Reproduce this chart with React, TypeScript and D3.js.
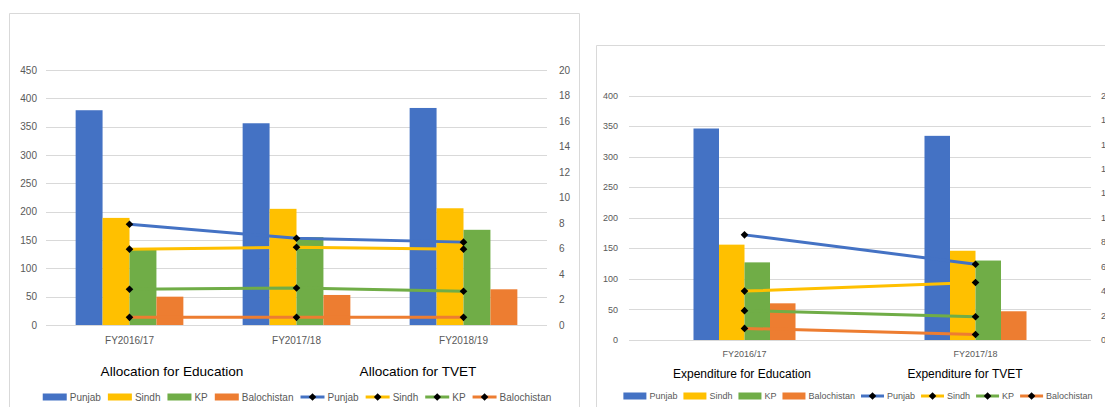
import React, { useEffect, useRef } from 'react';
import * as d3 from 'd3';

const provinces = ['Punjab', 'Sindh', 'KP', 'Balochistan'];
const provinceColors = ['#4472C4', '#FFC000', '#70AD47', '#ED7D31'];

// left panel - allocation (bars: education, left axis / lines: TVET, right axis)
const allocYears = ['FY2016/17', 'FY2017/18', 'FY2018/19'];
const allocEduPunjab = [379, 356, 383];
const allocEduSindh = [189, 205, 206];
const allocEduKP = [135, 155, 168];
const allocEduBalochistan = [50, 53, 63];
const allocTvetPunjab = [7.9, 6.8, 6.5];
const allocTvetSindh = [5.95, 6.1, 5.95];
const allocTvetKP = [2.8, 2.9, 2.65];
const allocTvetBalochistan = [0.6, 0.6, 0.6];

// right panel - expenditure
const expYears = ['FY2016/17', 'FY2017/18'];
const expEduPunjab = [346, 334];
const expEduSindh = [156, 146];
const expEduKP = [127, 130];
const expEduBalochistan = [60, 47];
const expTvetPunjab = [8.6, 6.2];
const expTvetSindh = [4.0, 4.7];
const expTvetKP = [2.4, 1.9];
const expTvetBalochistan = [0.95, 0.45];

const allocTitles = ['Allocation for Education', 'Allocation for TVET'];
const expTitles = ['Expenditure for Education', 'Expenditure for TVET'];

const FONT = '"Liberation Sans", Arial, sans-serif';
const GRID = '#D9D9D9';
const TEXT = '#595959';

const panels = [
  {
    years: allocYears,
    bars: [allocEduPunjab, allocEduSindh, allocEduKP, allocEduBalochistan],
    lines: [allocTvetPunjab, allocTvetSindh, allocTvetKP, allocTvetBalochistan],
    titles: allocTitles,
    titleX: [172, 418],
    frame: { x: 9.5, y: 13.5, w: 570 },
    plot: { left: 46, right: 547, top: 70, bottom: 325 },
    leftMax: 450,
    rightMax: 20,
    groupFrac: 0.645,
    tickFont: 10,
    leftLabelX: 37,
    rightLabelX: 559,
    catLabelY: 340,
    titleFont: 13.6,
    titleY: 371.5,
    legendFont: 10,
    legendY: 397,
    legendCenter: 297,
    keyW: 24,
    keyH: 7,
    itemGap: 7,
  },
  {
    years: expYears,
    bars: [expEduPunjab, expEduSindh, expEduKP, expEduBalochistan],
    lines: [expTvetPunjab, expTvetSindh, expTvetKP, expTvetBalochistan],
    titles: expTitles,
    titleX: [742, 965],
    frame: { x: 596.5, y: 45.5, w: 600 },
    plot: { left: 629, right: 1091, top: 95.5, bottom: 340 },
    leftMax: 400,
    rightMax: 20,
    groupFrac: 0.4416,
    tickFont: 9,
    leftLabelX: 618,
    rightLabelX: 1101,
    catLabelY: 354,
    titleFont: 12,
    titleY: 374,
    legendFont: 9,
    legendY: 396,
    legendCenter: 858,
    keyW: 23,
    keyH: 7,
    itemGap: 6,
  },
];

const diamond = (r: number) => `M0,${-r}L${r},0L0,${r}L${-r},0Z`;

function drawPanel(svg: any, p: any) {
  const g = svg.append('g');

  // chart frame (bottom is off-page)
  g.append('path')
    .attr('d', `M${p.frame.x},420V${p.frame.y}H${p.frame.x + p.frame.w}V420`)
    .attr('fill', 'none')
    .attr('stroke', GRID)
    .attr('stroke-width', 1);

  const x0 = d3.scaleBand().domain(p.years).range([p.plot.left, p.plot.right]);
  const bw = x0.bandwidth();
  const groupW = bw * p.groupFrac;
  const x1 = d3.scaleBand().domain(provinces).range([0, groupW]);
  const yL = d3.scaleLinear().domain([0, p.leftMax]).range([p.plot.bottom, p.plot.top]);
  const yR = d3.scaleLinear().domain([0, p.rightMax]).range([p.plot.bottom, p.plot.top]);

  const leftTicks = d3.range(0, p.leftMax + 1, 50);
  const rightTicks = d3.range(0, p.rightMax + 1, 2);

  // gridlines
  g.selectAll('.grid')
    .data(leftTicks)
    .join('line')
    .attr('x1', p.plot.left)
    .attr('x2', p.plot.right)
    .attr('y1', d => Math.round(yL(d)) + 0.5)
    .attr('y2', d => Math.round(yL(d)) + 0.5)
    .attr('stroke', GRID)
    .attr('stroke-width', 1);

  // left axis labels
  g.selectAll('.ltick')
    .data(leftTicks)
    .join('text')
    .attr('x', p.leftLabelX)
    .attr('y', d => yL(d))
    .attr('dy', '0.35em')
    .attr('text-anchor', 'end')
    .attr('font-size', p.tickFont)
    .attr('font-family', FONT)
    .attr('fill', TEXT)
    .text(d => d);

  // right axis labels
  g.selectAll('.rtick')
    .data(rightTicks)
    .join('text')
    .attr('x', p.rightLabelX)
    .attr('y', d => yR(d))
    .attr('dy', '0.35em')
    .attr('text-anchor', 'start')
    .attr('font-size', p.tickFont)
    .attr('font-family', FONT)
    .attr('fill', TEXT)
    .text(d => d);

  // bars
  provinces.forEach((prov, i) => {
    g.append('g')
      .selectAll('rect')
      .data(p.years.map((yr: string, j: number) => ({ yr, v: p.bars[i][j] })))
      .join('rect')
      .attr('x', (d: any) => (x0(d.yr) as number) + (bw - groupW) / 2 + (x1(prov) as number))
      .attr('y', (d: any) => yL(d.v))
      .attr('width', x1.bandwidth())
      .attr('height', (d: any) => yL(0) - yL(d.v))
      .attr('fill', provinceColors[i]);
  });

  // lines
  const line = d3
    .line<any>()
    .x(d => (x0(d.yr) as number) + bw / 2)
    .y(d => yR(d.v));

  provinces.forEach((prov, i) => {
    const pts = p.years.map((yr: string, j: number) => ({ yr, v: p.lines[i][j] }));
    g.append('path')
      .datum(pts)
      .attr('d', line)
      .attr('fill', 'none')
      .attr('stroke', provinceColors[i])
      .attr('stroke-width', 3)
      .attr('stroke-linecap', 'round');
    g.append('g')
      .selectAll('path')
      .data(pts)
      .join('path')
      .attr('transform', (d: any) => `translate(${(x0(d.yr) as number) + bw / 2},${yR(d.v)})`)
      .attr('d', diamond(3.8))
      .attr('fill', '#000');
  });

  // category labels
  g.selectAll('.cat')
    .data(p.years)
    .join('text')
    .attr('x', (d: any) => (x0(d) as number) + bw / 2)
    .attr('y', p.catLabelY)
    .attr('dy', '0.35em')
    .attr('text-anchor', 'middle')
    .attr('font-size', p.tickFont)
    .attr('font-family', FONT)
    .attr('fill', TEXT)
    .text((d: any) => d);

  // titles
  p.titles.forEach((t: string, i: number) => {
    g.append('text')
      .attr('x', p.titleX[i])
      .attr('y', p.titleY)
      .attr('dy', '0.35em')
      .attr('text-anchor', 'middle')
      .attr('font-size', p.titleFont)
      .attr('font-family', FONT)
      .attr('fill', '#000')
      .text(t);
  });

  // legend: 4 bar keys then 4 line keys, laid out by measured text width
  const leg = g.append('g');
  let cx = 0;
  [0, 1].forEach(kind => {
    provinces.forEach((prov, i) => {
      if (kind === 0) {
        leg.append('rect')
          .attr('x', cx)
          .attr('y', p.legendY - p.keyH / 2)
          .attr('width', p.keyW)
          .attr('height', p.keyH)
          .attr('fill', provinceColors[i]);
      } else {
        leg.append('line')
          .attr('x1', cx)
          .attr('x2', cx + p.keyW)
          .attr('y1', p.legendY)
          .attr('y2', p.legendY)
          .attr('stroke', provinceColors[i])
          .attr('stroke-width', 3);
        leg.append('path')
          .attr('transform', `translate(${cx + p.keyW / 2},${p.legendY})`)
          .attr('d', diamond(3.8))
          .attr('fill', '#000');
      }
      cx += p.keyW + 3;
      const t = leg.append('text')
        .attr('x', cx)
        .attr('y', p.legendY)
        .attr('dy', '0.35em')
        .attr('font-size', p.legendFont)
        .attr('font-family', FONT)
        .attr('fill', TEXT)
        .text(prov);
      cx += (t.node() as SVGTextElement).getComputedTextLength() + p.itemGap;
    });
  });
  const total = cx - p.itemGap;
  leg.attr('transform', `translate(${p.legendCenter - total / 2},0)`);
}

const App = () => {
  const svgRef = useRef<SVGSVGElement>(null);

  useEffect(() => {
    const svg = d3.select(svgRef.current);
    svg.selectAll('*').remove();
    panels.forEach(p => drawPanel(svg, p));
  }, []);

  return (
    <div style={{ position: 'absolute', left: 0, top: 0 }}>
      <svg ref={svgRef} width={1105} height={407} style={{ display: 'block', background: '#fff' }} />
    </div>
  );
};

export default App;
